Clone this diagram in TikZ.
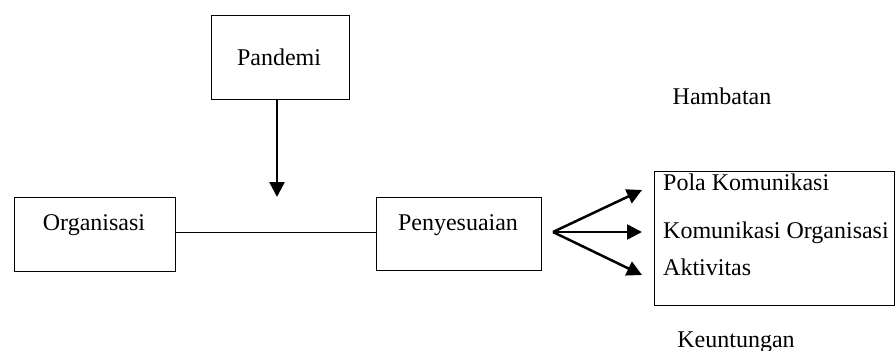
\documentclass[tikz,border=0pt]{standalone}
\usepackage{fontspec}
\setmainfont{Liberation Serif}
\usetikzlibrary{arrows.meta}
\begin{document}
\begin{tikzpicture}[x=1pt,y=-1pt,
 box/.style={draw,line width=1pt,inner sep=0pt},
 lbl/.style={anchor=base,inner sep=0pt,font=\fontsize{24}{28}\selectfont},
 lbll/.style={anchor=base west,inner sep=0pt,font=\fontsize{24}{28}\selectfont},
 arr/.style={line width=2.5pt,-{Triangle[length=15pt,width=15pt]}}]
\useasboundingbox (0,0) rectangle (895,351);
% boxes
\node[box,minimum width=138pt,minimum height=84pt] (pan) at (280,57) {};
\node[box,minimum width=161pt,minimum height=74pt] (org) at (94.5,234) {};
\node[box,minimum width=165pt,minimum height=73pt] (pen) at (458.5,233.5) {};
\node[box,minimum width=240pt,minimum height=134pt] (res) at (774,238) {};
% texts
\node[lbl] (tpan) at (279,65) {Pandemi};
\node[lbl] (torg) at (94,230) {Organisasi};
\node[lbl] (tpen) at (458,230) {Penyesuaian};
\node[lbll] (tpola) at (663,190) {Pola Komunikasi};
\node[lbll] (tkom) at (663,238) {Komunikasi Organisasi};
\node[lbll] (takt) at (663,275) {Aktivitas};
\node[lbl] (tham) at (722,104) {Hambatan};
\node[lbl] (tkeu) at (736,347) {Keuntungan};
% connectors
\coordinate (ptip) at (277,197);
\draw[arr] (pan.south -| ptip) -- (ptip);
\coordinate (lin) at (0,232);
\draw[line width=1pt] (org.east |- lin) -- (pen.west |- lin);
\coordinate (fork) at (553,232);
\coordinate (t1) at (642,190);
\coordinate (t2) at (642,232);
\coordinate (t3) at (642,275);
\draw[arr] (fork) -- (t1);
\draw[arr] (fork) -- (t2);
\draw[arr] (fork) -- (t3);
\end{tikzpicture}
\end{document}
